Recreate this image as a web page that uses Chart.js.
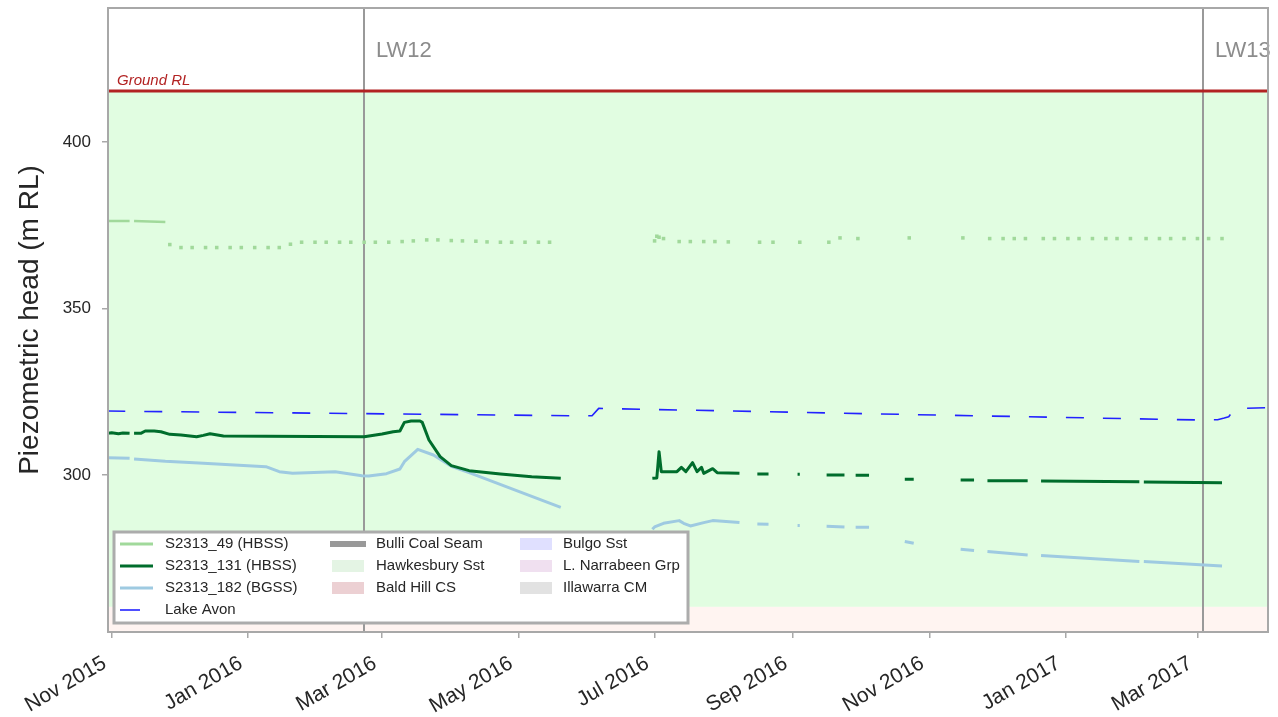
<!DOCTYPE html>
<html>
<head>
<meta charset="utf-8">
<title>Piezometric head</title>
<script src="https://cdn.jsdelivr.net/npm/chart.js@4.4.1/dist/chart.umd.min.js"></script>
<style>
  html, body { margin: 0; padding: 0; background: #fff; }
  canvas { display: block; }
</style>
</head>
<body>
<canvas id="piezoChart" width="1278" height="717"></canvas>
<script>
// ---- data ----
const xMin = '2015-10-30T08:00:00Z';
const xMax = '2017-04-01T14:00:00Z';

const xTickDates = ['2015-11-01', '2016-01-01', '2016-03-01', '2016-05-01', '2016-07-01',
  '2016-09-01', '2016-11-01', '2017-01-01', '2017-03-01'];
const xTickLabels = ['Nov 2015', 'Jan 2016', 'Mar 2016', 'May 2016', 'Jul 2016',
  'Sep 2016', 'Nov 2016', 'Jan 2017', 'Mar 2017'];
const yTicks = [300, 350, 400];

// S2313_49 (HBSS): short continuous record, then sparse readings
const s49Dates = ['2015-10-30', '2015-11-09', '2015-11-10', '2015-11-11', '2015-11-25'];
const s49Values = [376.3, 376.3, null, 376.3, 376.0];
const s49DotDates = ['2015-11-27', '2015-12-02', '2015-12-07', '2015-12-13', '2015-12-18', '2015-12-24',
  '2015-12-29', '2016-01-04', '2016-01-10', '2016-01-15', '2016-01-20', '2016-01-25', '2016-01-31',
  '2016-02-05', '2016-02-11', '2016-02-16', '2016-02-22', '2016-02-27', '2016-03-04', '2016-03-10',
  '2016-03-15', '2016-03-21', '2016-03-26', '2016-04-01', '2016-04-06', '2016-04-12', '2016-04-17',
  '2016-04-23', '2016-04-28', '2016-05-04', '2016-05-10', '2016-05-15',
  '2016-07-01', '2016-07-02', '2016-07-03', '2016-07-05', '2016-07-12', '2016-07-17', '2016-07-23',
  '2016-07-28', '2016-08-03', '2016-08-17', '2016-08-23', '2016-09-04', '2016-09-17', '2016-09-22',
  '2016-09-30', '2016-10-23', '2016-11-16', '2016-11-28', '2016-12-04', '2016-12-09', '2016-12-14',
  '2016-12-22', '2016-12-27', '2017-01-02', '2017-01-07', '2017-01-13', '2017-01-19', '2017-01-24',
  '2017-01-30', '2017-02-06', '2017-02-12', '2017-02-17', '2017-02-23', '2017-03-01', '2017-03-06',
  '2017-03-12'];
const s49DotValues = [369.2, 368.3, 368.3, 368.3, 368.3, 368.3,
  368.3, 368.3, 368.3, 368.3, 369.3, 369.9, 369.9,
  369.9, 369.9, 369.9, 369.9, 369.9, 369.9, 370.1,
  370.3, 370.6, 370.6, 370.4, 370.3, 370.2, 370.0,
  369.9, 369.9, 369.9, 369.9, 369.9,
  370.3, 371.7, 371.4, 371.0, 370.1, 370.1, 370.1,
  370.1, 370.0, 369.9, 369.9, 369.9, 369.9, 371.2,
  371.0, 371.2, 371.2, 371.0, 371.0, 371.0, 371.0,
  371.0, 371.0, 371.0, 371.0, 371.0, 371.0, 371.0,
  371.0, 371.0, 371.0, 371.0, 371.0, 371.0, 371.0,
  371.0];

// S2313_131 (HBSS)
const s131Dates = ['2015-10-30', '2015-11-01', '2015-11-04', '2015-11-06', '2015-11-09', '2015-11-10',
  '2015-11-11', '2015-11-14', '2015-11-16', '2015-11-20', '2015-11-23', '2015-11-27', '2015-12-02',
  '2015-12-09', '2015-12-12', '2015-12-15', '2015-12-21', '2016-01-09', '2016-02-22', '2016-03-01',
  '2016-03-06', '2016-03-09', '2016-03-11', '2016-03-14', '2016-03-18', '2016-03-19', '2016-03-22',
  '2016-03-27', '2016-04-01', '2016-04-09', '2016-04-23', '2016-05-07', '2016-05-20', '2016-06-10',
  '2016-06-30', '2016-07-02', '2016-07-03', '2016-07-04', '2016-07-11', '2016-07-13', '2016-07-15',
  '2016-07-18', '2016-07-20', '2016-07-22', '2016-07-23', '2016-07-27', '2016-07-29', '2016-08-08',
  '2016-08-12', '2016-08-16', '2016-08-21', '2016-08-27', '2016-09-03', '2016-09-04', '2016-09-10',
  '2016-09-16', '2016-09-24', '2016-09-26', '2016-09-29', '2016-10-05', '2016-10-12', '2016-10-21',
  '2016-10-25', '2016-11-05', '2016-11-15', '2016-11-21', '2016-11-24', '2016-11-27', '2016-12-15',
  '2016-12-18', '2016-12-21', '2017-02-03', '2017-02-04', '2017-02-05', '2017-03-12'];
const s131Values = [312.5, 312.7, 312.4, 312.6, 312.5, null,
  312.5, 312.5, 313.2, 313.2, 313.0, 312.2, 312.0,
  311.5, 311.9, 312.4, 311.7, 311.6, 311.5, 312.3,
  313.0, 313.2, 315.8, 316.2, 316.2, 315.8, 310.5,
  305.5, 302.8, 301.3, 300.3, 299.5, 299.0, null,
  299.0, 299.1, 307.0, 301.0, 301.0, 302.3, 301.0,
  303.7, 301.0, 302.3, 300.5, 301.9, 300.7, 300.5,
  null, 300.3, 300.3, null, 300.2, 300.2, null,
  300.0, 300.0, null, 299.9, 299.9, null, 298.7,
  298.7, null, 298.5, 298.5, null, 298.3, 298.3,
  null, 298.2, 298.0, null, 297.9, 297.7];

// S2313_182 (BGSS)
const s182Dates = ['2015-10-30', '2015-11-09', '2015-11-10', '2015-11-11', '2015-11-25', '2015-12-10',
  '2016-01-09', '2016-01-15', '2016-01-21', '2016-02-09', '2016-02-21', '2016-02-24', '2016-03-03',
  '2016-03-09', '2016-03-11', '2016-03-17', '2016-03-24', '2016-04-01', '2016-04-09', '2016-05-20',
  '2016-06-10', '2016-06-30', '2016-07-01', '2016-07-05', '2016-07-12', '2016-07-14', '2016-07-17',
  '2016-07-23', '2016-07-27', '2016-08-08', '2016-08-12', '2016-08-16', '2016-08-21', '2016-08-27',
  '2016-09-03', '2016-09-04', '2016-09-10', '2016-09-16', '2016-09-24', '2016-09-26', '2016-09-29',
  '2016-10-05', '2016-10-12', '2016-10-21', '2016-10-25', '2016-11-05', '2016-11-15', '2016-11-21',
  '2016-11-24', '2016-11-27', '2016-12-15', '2016-12-18', '2016-12-21', '2017-02-03', '2017-02-04',
  '2017-02-05', '2017-03-12'];
const s182Values = [305.2, 305.0, null, 304.8, 304.1, 303.6,
  302.5, 301.0, 300.5, 301.0, 299.8, 299.7, 300.4,
  301.8, 304.0, 307.7, 306.0, 302.6, 300.7, 290.3,
  null, 283.7, 284.4, 285.5, 286.3, 285.5, 284.7,
  285.7, 286.3, 285.7, null, 285.3, 285.2, null,
  284.8, 284.8, null, 284.6, 284.4, null, 284.3,
  284.3, null, 280.0, 279.5, null, 277.7, 277.3,
  null, 277.0, 276.0, null, 275.8, 274.0, null,
  274.0, 272.7];

// Lake Avon
const avonDates = ['2015-10-30', '2016-05-24', '2016-06-03', '2016-06-06', '2016-10-20', '2017-03-03',
  '2017-03-10', '2017-03-13', '2017-03-15', '2017-03-17', '2017-03-20', '2017-04-01'];
const avonValues = [319.2, 317.8, 317.8, 320.0, 318.2, 316.5,
  316.6, 317.1, 317.5, 319.3, 320.0, 320.2];

// geology / mining references
const groundRL = 415.3;
const hawkesburyBase = 260.4;
const lwLabels = ['LW12', 'LW13'];
const lwDates = ['2016-02-22', '2017-03-03T12:00:00Z'];

const seriesLabels = ['S2313_49 (HBSS)', 'S2313_131 (HBSS)', 'S2313_182 (BGSS)', 'Lake Avon'];
const seriesColors = ['#a1d99b', '#006d2c', '#9ecae1', '#2222ff'];
const layerNames = ['Bulli Coal Seam', 'Hawkesbury Sst', 'Bald Hill CS', 'Bulgo Sst', 'L. Narrabeen Grp', 'Illawarra CM'];
const layerColors = ['#999999', '#e4f4e4', '#ecd0d3', '#e0e0ff', '#f0e0f0', '#e2e2e2'];

// ---- helpers ----
const toMs = d => Date.parse(d.length === 10 ? d + 'T00:00:00Z' : d);
const pts = (dates, values) => dates.map((d, i) => ({ x: toMs(d), y: values[i] }));

const FONT = "'Liberation Sans', Arial, sans-serif";
const TEXT = '#262626';
const AXIS = '#a8a8a8';

Chart.defaults.font.family = FONT;

// background bands, ground line, longwall markers, frame and legend
const overlay = {
  id: 'overlay',
  beforeDatasetsDraw(chart) {
    const { ctx, chartArea: a, scales: { x, y } } = chart;
    const yGround = y.getPixelForValue(groundRL);
    const yBase = y.getPixelForValue(hawkesburyBase);
    ctx.save();
    ctx.fillStyle = '#ffffff';
    ctx.fillRect(a.left, a.top, a.width, yGround - a.top);
    ctx.fillStyle = '#e1fde1';
    ctx.fillRect(a.left, yGround, a.width, yBase - yGround);
    ctx.fillStyle = '#fff4f1';
    ctx.fillRect(a.left, yBase, a.width, a.bottom - yBase);

    ctx.strokeStyle = '#999999';
    ctx.lineWidth = 2;
    ctx.font = '22px ' + FONT;
    ctx.fillStyle = '#8c8c8c';
    ctx.textBaseline = 'middle';
    lwDates.forEach((d, i) => {
      const px = Math.round(x.getPixelForValue(toMs(d)));
      ctx.beginPath();
      ctx.moveTo(px, a.top);
      ctx.lineTo(px, a.bottom);
      ctx.stroke();
      ctx.fillText(lwLabels[i], px + 12, a.top + 43);
    });

    ctx.strokeStyle = '#b22222';
    ctx.lineWidth = 3;
    ctx.beginPath();
    ctx.moveTo(a.left, yGround);
    ctx.lineTo(a.right, yGround);
    ctx.stroke();
    ctx.font = 'italic 15px ' + FONT;
    ctx.fillStyle = '#b22222';
    ctx.textBaseline = 'alphabetic';
    ctx.fillText('Ground RL', a.left + 9, yGround - 6);
    ctx.restore();
  },
  afterDraw(chart) {
    const { ctx, chartArea: a } = chart;
    ctx.save();
    ctx.strokeStyle = AXIS;
    ctx.lineWidth = 2;
    ctx.strokeRect(a.left, a.top, a.width, a.height);

    // legend
    const box = { x: 114, y: 532, w: 574, h: 91 };
    ctx.fillStyle = '#ffffff';
    ctx.fillRect(box.x, box.y, box.w, box.h);
    ctx.strokeStyle = '#acacac';
    ctx.lineWidth = 3;
    ctx.strokeRect(box.x, box.y, box.w, box.h);

    const rowY = [544, 566, 588, 610];
    ctx.font = '15px ' + FONT;
    ctx.textBaseline = 'middle';
    seriesLabels.forEach((lab, i) => {
      ctx.strokeStyle = seriesColors[i];
      ctx.lineWidth = i === 3 ? 1.6 : 3;
      ctx.beginPath();
      ctx.moveTo(120, rowY[i]);
      ctx.lineTo(i === 3 ? 140 : 153, rowY[i]);
      ctx.stroke();
      ctx.fillStyle = TEXT;
      ctx.fillText(lab, 165, rowY[i]);
    });
    layerNames.forEach((lab, i) => {
      const col = i < 3 ? 0 : 1;
      const row = i % 3;
      const sx = col === 0 ? 330 : 518;
      const tx = col === 0 ? 376 : 563;
      const cy = rowY[row];
      ctx.fillStyle = layerColors[i];
      if (i === 0) {
        ctx.fillRect(sx, cy - 3, 36, 6);
      } else {
        ctx.fillRect(sx + 2, cy - 6, 32, 12);
      }
      ctx.fillStyle = TEXT;
      ctx.fillText(lab, tx, cy);
    });
    ctx.restore();
  }
};

const isolatedRadius = ctx => {
  const d = ctx.dataset.data;
  const i = ctx.dataIndex;
  if (!d[i] || d[i].y == null) return 0;
  const prev = d[i - 1], next = d[i + 1];
  const alone = (!prev || prev.y == null) && (!next || next.y == null);
  return alone ? 1.6 : 0;
};

const canvasEl = document.getElementById('piezoChart');
const piezoChart = new Chart(canvasEl, {
  type: 'line',
  data: {
    datasets: [
      {
        label: seriesLabels[0],
        data: pts(s49Dates, s49Values),
        borderColor: seriesColors[0],
        borderWidth: 2.5,
        pointRadius: isolatedRadius
      },
      {
        label: seriesLabels[0] + ' readings',
        data: pts(s49DotDates, s49DotValues),
        showLine: false,
        pointStyle: 'rect',
        pointRadius: 2.5,
        pointBorderWidth: 0,
        pointBackgroundColor: seriesColors[0],
        borderColor: seriesColors[0]
      },
      {
        label: seriesLabels[1],
        data: pts(s131Dates, s131Values),
        borderColor: seriesColors[1],
        borderWidth: 3,
        pointRadius: isolatedRadius
      },
      {
        label: seriesLabels[2],
        data: pts(s182Dates, s182Values),
        borderColor: seriesColors[2],
        borderWidth: 3,
        pointRadius: isolatedRadius
      },
      {
        label: seriesLabels[3],
        data: pts(avonDates, avonValues),
        borderColor: seriesColors[3],
        borderWidth: 1.6,
        borderDash: [18, 19],
        pointRadius: 0
      }
    ]
  },
  options: {
    responsive: false,
    animation: false,
    devicePixelRatio: 1,
    spanGaps: false,
    layout: { padding: { top: 8, right: 10, left: 0, bottom: 0 } },
    elements: {
      line: { tension: 0, borderJoinStyle: 'round', fill: false },
      point: { borderWidth: 0, hitRadius: 0 }
    },
    datasets: { line: { pointBackgroundColor: ctx => ctx.dataset.borderColor } },
    plugins: {
      legend: { display: false },
      tooltip: { enabled: false }
    },
    scales: {
      x: {
        type: 'linear',
        min: toMs(xMin),
        max: toMs(xMax),
        afterFit: s => { s.height = 85; s.paddingLeft = 0; s.paddingRight = 0; },
        afterBuildTicks: s => { s.ticks = xTickDates.map(d => ({ value: toMs(d) })); },
        ticks: {
          autoSkip: false,
          minRotation: 30,
          maxRotation: 30,
          padding: 13,
          labelOffset: -7,
          color: TEXT,
          font: { size: 21 },
          callback: (v, i) => xTickLabels[i]
        },
        grid: { drawOnChartArea: false, drawTicks: true, tickLength: 6, color: AXIS, lineWidth: 1.5 },
        border: { color: AXIS, width: 2 }
      },
      y: {
        min: 252.85,
        max: 440.24,
        afterFit: s => { s.width = 108; s.paddingTop = 0; s.paddingBottom = 0; },
        afterBuildTicks: s => { s.ticks = yTicks.map(v => ({ value: v })); },
        ticks: { padding: 11, color: TEXT, font: { size: 17 } },
        grid: { drawOnChartArea: false, drawTicks: true, tickLength: 6, color: AXIS, lineWidth: 1.5 },
        border: { color: AXIS, width: 2 },
        title: {
          display: true,
          text: 'Piezometric head (m RL)',
          color: TEXT,
          font: { size: 28 },
          padding: { top: 13, bottom: 0 }
        }
      }
    }
  },
  plugins: [overlay]
});
</script>
</body>
</html>
